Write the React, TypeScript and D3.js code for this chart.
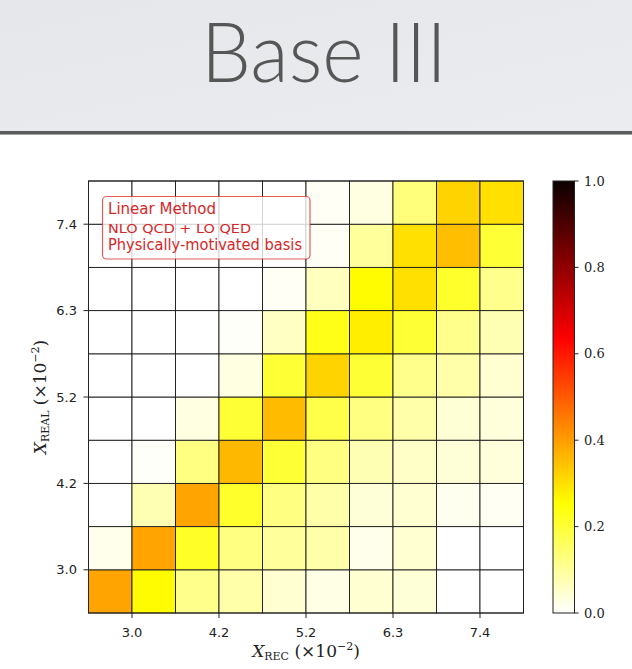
import React from "react";
import * as d3 from "d3";

// ---- data ----
const xTickLabels = ["3.0", "4.2", "5.2", "6.3", "7.4"];
const yTickLabels = ["3.0", "4.2", "5.2", "6.3", "7.4"];
const tickEdges = [1, 3, 5, 7, 9];
const colorbarTicks = [0, 0.2, 0.4, 0.6, 0.8, 1.0];

// rows listed from bottom (lowest X_REAL) to top
const row0 = [0.39, 0.26, 0.115, 0.085, 0.045, 0.025, 0.045, 0.04, 0, 0];
const row1 = [0.02, 0.39, 0.215, 0.125, 0.1, 0.085, 0.02, 0.045, 0, 0];
const row2 = [0, 0.075, 0.39, 0.21, 0.125, 0.085, 0.04, 0.045, 0.015, 0.012];
const row3 = [0, 0.005, 0.125, 0.36, 0.2, 0.125, 0.075, 0.055, 0.04, 0.035];
const row4 = [0, 0, 0.03, 0.2, 0.355, 0.18, 0.125, 0.085, 0.042, 0.035];
const row5 = [0, 0, 0, 0.03, 0.2, 0.32, 0.2, 0.115, 0.085, 0.045];
const row6 = [0, 0, 0, 0.005, 0.06, 0.23, 0.28, 0.2, 0.115, 0.075];
const row7 = [0, 0, 0, 0, 0.01, 0.065, 0.26, 0.3, 0.21, 0.115];
const row8 = [0, 0, 0, 0, 0, 0.01, 0.1, 0.3, 0.35, 0.2];
const row9 = [0, 0, 0, 0, 0, 0.01, 0.03, 0.13, 0.32, 0.3];
const rows = [row0, row1, row2, row3, row4, row5, row6, row7, row8, row9];

const legendLines = ["Linear Method", "NLO QCD + LO QED", "Physically-motivated basis"];

// matplotlib "hot" reversed
function hotR(v: number): string {
  const t = 1 - Math.max(0, Math.min(1, v));
  const a = 0.365079, b = 0.746032;
  const r = t < a ? 0.0416 + (1 - 0.0416) * (t / a) : 1;
  const g = t < a ? 0 : t < b ? (t - a) / (b - a) : 1;
  const bl = t < b ? 0 : (t - b) / (1 - b);
  return d3.rgb(r * 255, g * 255, bl * 255).formatHex();
}

export default function App() {
  const W = 632, H = 669;
  const plotL = 88.5, plotR = 523.5, plotT = 181, plotB = 613;
  const x = d3.scaleLinear().domain([0, 10]).range([plotL, plotR]);
  const y = d3.scaleLinear().domain([0, 10]).range([plotB, plotT]);

  const cbL = 553, cbR = 574.5;
  const cbY = d3.scaleLinear().domain([0, 1]).range([plotB, plotT]);
  const gradStops = [0, 0.253968, 0.634921, 1];

  const red = "#d62728";
  const tickFont = "'DejaVu Sans', sans-serif";
  const serif = "'DejaVu Serif', serif";

  return (
    <svg width={W} height={H} style={{ position: "absolute", left: 0, top: 0 }}>
      <defs>
        <linearGradient id="hdr" x1="0" y1="0" x2="1" y2="1">
          <stop offset="0" stopColor="#e5e7ea" />
          <stop offset="1" stopColor="#ebecef" />
        </linearGradient>
        <linearGradient id="cbar" x1="0" y1="1" x2="0" y2="0">
          {gradStops.map((s) => (
            <stop key={s} offset={s} stopColor={hotR(s)} />
          ))}
        </linearGradient>
      </defs>
      <rect x={0} y={0} width={W} height={H} fill="#ffffff" />
      {/* header */}
      <rect x={0} y={0} width={W} height={131} fill="url(#hdr)" />
      <rect x={0} y={131} width={W} height={3} fill="#5b5d5d" />
      <rect x={0} y={134} width={W} height={1} fill="#a0a2a3" />
      <text
        x={201}
        y={82}
        fontFamily="Lato, 'Open Sans', sans-serif"
        fontWeight={300}
        fontSize={83}
        fill="#565656"
        textLength={246}
        lengthAdjust="spacingAndGlyphs"
      >
        Base III
      </text>

      {/* heatmap cells */}
      <g>
        {rows.map((row, ri) =>
          row.map((v, ci) => (
            <rect
              key={`${ri}-${ci}`}
              x={x(ci)}
              y={y(ri + 1)}
              width={x(ci + 1) - x(ci)}
              height={y(ri) - y(ri + 1)}
              fill={hotR(v)}
              stroke="#1a1a1a"
              strokeWidth={0.9}
            />
          ))
        )}
      </g>
      <rect x={plotL} y={plotT} width={plotR - plotL} height={plotB - plotT} fill="none" stroke="#222" strokeWidth={1} />

      {/* x ticks */}
      {tickEdges.map((e, i) => (
        <g key={`xt${i}`}>
          <line x1={x(e)} x2={x(e)} y1={plotB} y2={plotB + 5} stroke="#222" strokeWidth={1} />
          <text x={x(e)} y={637} textAnchor="middle" fontFamily={tickFont} fontSize={13} fill="#222">
            {xTickLabels[i]}
          </text>
        </g>
      ))}
      {/* y ticks */}
      {tickEdges.map((e, i) => (
        <g key={`yt${i}`}>
          <line x1={plotL - 5} x2={plotL} y1={y(e)} y2={y(e)} stroke="#222" strokeWidth={1} />
          <text x={77} y={y(e) + 4.5} textAnchor="end" fontFamily={tickFont} fontSize={13} fill="#222">
            {yTickLabels[i]}
          </text>
        </g>
      ))}

      {/* x axis label */}
      <text x={306} y={657} textAnchor="middle" fontFamily={serif} fontSize={17} fill="#222">
        <tspan fontStyle="italic">X</tspan>
        <tspan fontSize={11} dy={3}>REC</tspan>
        <tspan dy={-3}> (×10</tspan>
        <tspan fontSize={11} dy={-7}>−2</tspan>
        <tspan dy={7}>)</tspan>
      </text>
      {/* y axis label */}
      <text
        transform={`translate(46,${(plotT + plotB) / 2}) rotate(-90)`}
        textAnchor="middle"
        fontFamily={serif}
        fontSize={17}
        fill="#222"
      >
        <tspan fontStyle="italic">X</tspan>
        <tspan fontSize={11} dy={3}>REAL</tspan>
        <tspan dy={-3}> (×10</tspan>
        <tspan fontSize={11} dy={-7}>−2</tspan>
        <tspan dy={7}>)</tspan>
      </text>

      {/* legend box */}
      <rect x={102.5} y={196.5} width={207.5} height={62.5} rx={4} ry={4} fill="#ffffff" fillOpacity={0.8} stroke={red} strokeOpacity={0.75} strokeWidth={1.2} />
      <text x={108} y={214} fontFamily={tickFont} fontSize={15} fill={red} textLength={108} lengthAdjust="spacingAndGlyphs">
        {legendLines[0]}
      </text>
      <text x={108} y={233} fontFamily={tickFont} fontSize={13} fill={red} textLength={143} lengthAdjust="spacingAndGlyphs">
        {legendLines[1]}
      </text>
      <text x={108} y={250} fontFamily={tickFont} fontSize={15} fill={red} textLength={194} lengthAdjust="spacingAndGlyphs">
        {legendLines[2]}
      </text>

      {/* colorbar */}
      <rect x={cbL} y={plotT} width={cbR - cbL} height={plotB - plotT} fill="url(#cbar)" stroke="#222" strokeWidth={1} />
      {colorbarTicks.map((t) => (
        <g key={`cb${t}`}>
          <line x1={cbR} x2={cbR + 4} y1={cbY(t)} y2={cbY(t)} stroke="#222" strokeWidth={1} />
          <text x={584} y={cbY(t) + 4.5} fontFamily={serif} fontSize={13} fill="#222">
            {t.toFixed(1)}
          </text>
        </g>
      ))}
    </svg>
  );
}
